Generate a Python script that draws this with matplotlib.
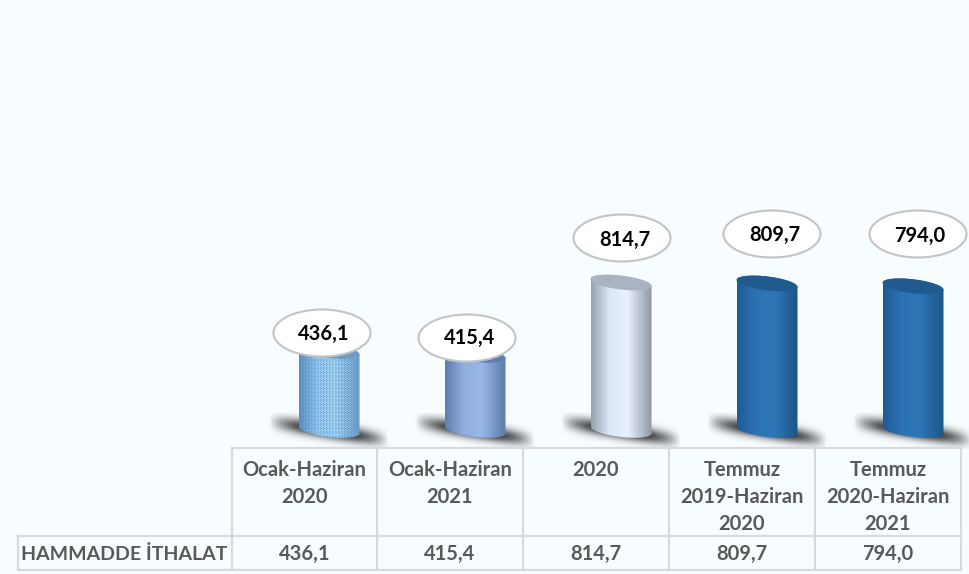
import numpy as np
import matplotlib
matplotlib.use('Agg')
import matplotlib.pyplot as plt
from matplotlib.colors import to_rgb
from matplotlib.patches import Polygon, Ellipse

plt.rcParams['font.family'] = ['Lato', 'DejaVu Sans']

# veriler
categories = ['Ocak-Haziran\n2020', 'Ocak-Haziran\n2021', '2020',
              'Temmuz\n2019-Haziran\n2020', 'Temmuz\n2020-Haziran\n2021']
values = [436.1, 415.4, 814.7, 809.7, 794.0]
row_label = 'HAMMADDE İTHALAT'

# her silindirin renkleri: kenar, orta, kenar + üst kapak
bar_stops = [
    (['#5E93BE', '#93C6EE', '#A4D2F4', '#6A9DC6'], '#6C9CC4'),
    (['#5F7DAF', '#8FAEE0', '#98B6E8', '#5F7DAA'], '#5B7DB0'),
    (['#98A1AD', '#DCE6F6', '#E9F1FF', '#8F98A6'], '#A9B3C1'),
    (['#1E5C96', '#2C71B2', '#2F77B9', '#1C5689'], '#215A8E'),
    (['#1E5C96', '#2C71B2', '#2F77B9', '#1C5689'], '#215A8E'),
]
# balon merkezleri (piksel)
bubble_x = [322, 467, 622, 772, 918]
bubble_y = [333, 338, 238, 234, 234]
text_dx = [2, 3, 3, 3, 2]
text_dy = [0, -1, 1, 0, 1]

W, H = 969, 574
BG = '#F7FCFF'
X0, DX = 329, 146      # ilk çubuğun pikseli, çubuk aralığı
Y0, SY = 430, 0.181    # sıfır çizgisi pikseli, birim başına piksel

fig = plt.figure(figsize=(W / 100, H / 100), dpi=100, facecolor=BG)
ax = fig.add_axes([0, 0, 1, 1])
ax.set_facecolor(BG)
ax.axis('off')

half_w = 30.5 / DX
tilt = -3.5 / SY
cap_h = 7 / SY
t = np.linspace(0, 2 * np.pi, 121)


def ring(cx, cy):
    return np.column_stack([cx + half_w * np.cos(t),
                            cy + cap_h * np.sin(t) + tilt * np.cos(t)])


for i, v in enumerate(values):
    # gölge
    sx = np.linspace(-62, 62, 248)
    sy = np.linspace(-18, 18, 72)
    gx, gy = np.meshgrid(sx, sy)
    u = gx / 60
    w = (gy + 0.16 * gx) / 7.5
    alpha = np.clip(1 - np.abs(u) ** 2.5, 0, 1) * np.exp(-w ** 2) * 0.85
    img = np.zeros(alpha.shape + (4,))
    img[..., 3] = alpha
    ax.imshow(img, extent=[i + sx[0] / DX, i + sx[-1] / DX,
                           -1 / SY + sy[0] / SY, -1 / SY + sy[-1] / SY],
              origin='lower', aspect='auto', zorder=1, interpolation='bilinear')

    stops, cap = bar_stops[i]
    bottom = ring(i, 0)
    top = ring(i, v)
    # gövde: alt ön yay (soldan sağa) + üst arka yay (sağdan sola)
    body = Polygon(np.vstack([bottom[t >= np.pi], top[t <= np.pi]]),
                   closed=True, fc='none', ec='none', zorder=2)
    ax.add_patch(body)

    n = 61
    pos = np.linspace(0, 1, n)
    rgb = np.array([to_rgb(c) for c in stops])
    anchors = [0, 0.3, 0.6, 1]
    row = np.column_stack([np.interp(pos, anchors, rgb[:, k]) for k in range(3)])
    if i == 0:
        # noktalı doku, piksel başına bir hücre
        nr = int(round((v + 24 / SY) * SY))
        tex = np.repeat(row[None, :, :], nr, axis=0)
        yy, xx = np.indices((nr, n))
        dots = (xx % 3 == 0) & (yy % 2 == 0) | (xx % 3 == 1) & (yy % 4 == 1)
        tex[dots] = tex[dots] * 0.55 + np.array(to_rgb('#2F78BE')) * 0.45
        grad = tex
    else:
        grad = row[None, :, :]
    im = ax.imshow(grad, extent=[i - half_w, i + half_w, -12 / SY, v + 12 / SY],
                   origin='lower', aspect='auto', zorder=2,
                   interpolation='nearest' if i == 0 else 'bilinear')
    im.set_clip_path(body)
    ax.add_patch(Polygon(top, closed=True, fc=cap, ec='none', zorder=3))

ax.set_xlim((0 - X0) / DX, (W - X0) / DX)
ax.set_ylim((Y0 - H) / SY, Y0 / SY)

# piksel koordinatlı üst katman: balonlar ve tablo
ov = fig.add_axes([0, 0, 1, 1], zorder=5)
ov.patch.set_alpha(0)
ov.axis('off')
ov.set_xlim(0, W)
ov.set_ylim(H, 0)

for i, v in enumerate(values):
    label = f'{v:.1f}'.replace('.', ',')
    ov.add_patch(Ellipse((bubble_x[i], bubble_y[i]), 97, 47, fc='white',
                         ec='#C4C4C4', lw=1.5))
    ov.text(bubble_x[i] + text_dx[i], bubble_y[i] + text_dy[i] + 1, label,
            ha='center', va='center', fontsize=14.5, fontweight='bold', color='black')

# tablo
col_x = [232, 377, 523, 669, 815, 961]
line = dict(color='#D9D9D9', lw=1.6, solid_capstyle='projecting')
ov.plot([col_x[0], col_x[-1]], [448, 448], **line)
ov.plot([18, col_x[-1]], [536, 536], **line)
ov.plot([18, col_x[-1]], [570, 570], **line)
ov.plot([18, 18], [536, 570], **line)
for x in col_x:
    ov.plot([x, x], [448, 570], **line)

grey = '#595959'
ov.text(124, 554, row_label, ha='center', va='center', fontsize=14,
        fontweight='bold', color=grey)
for i, v in enumerate(values):
    cx = (col_x[i] + col_x[i + 1]) / 2
    for k, part in enumerate(categories[i].split('\n')):
        ov.text(cx, 469.5 + k * 27.5, part, ha='center', va='center', fontsize=14.5,
                fontweight='bold', color=grey)
    ov.text(cx, 554, f'{v:.1f}'.replace('.', ','), ha='center', va='center',
            fontsize=14.5, fontweight='bold', color=grey)

fig.savefig('out.png', dpi=100, facecolor=BG)
